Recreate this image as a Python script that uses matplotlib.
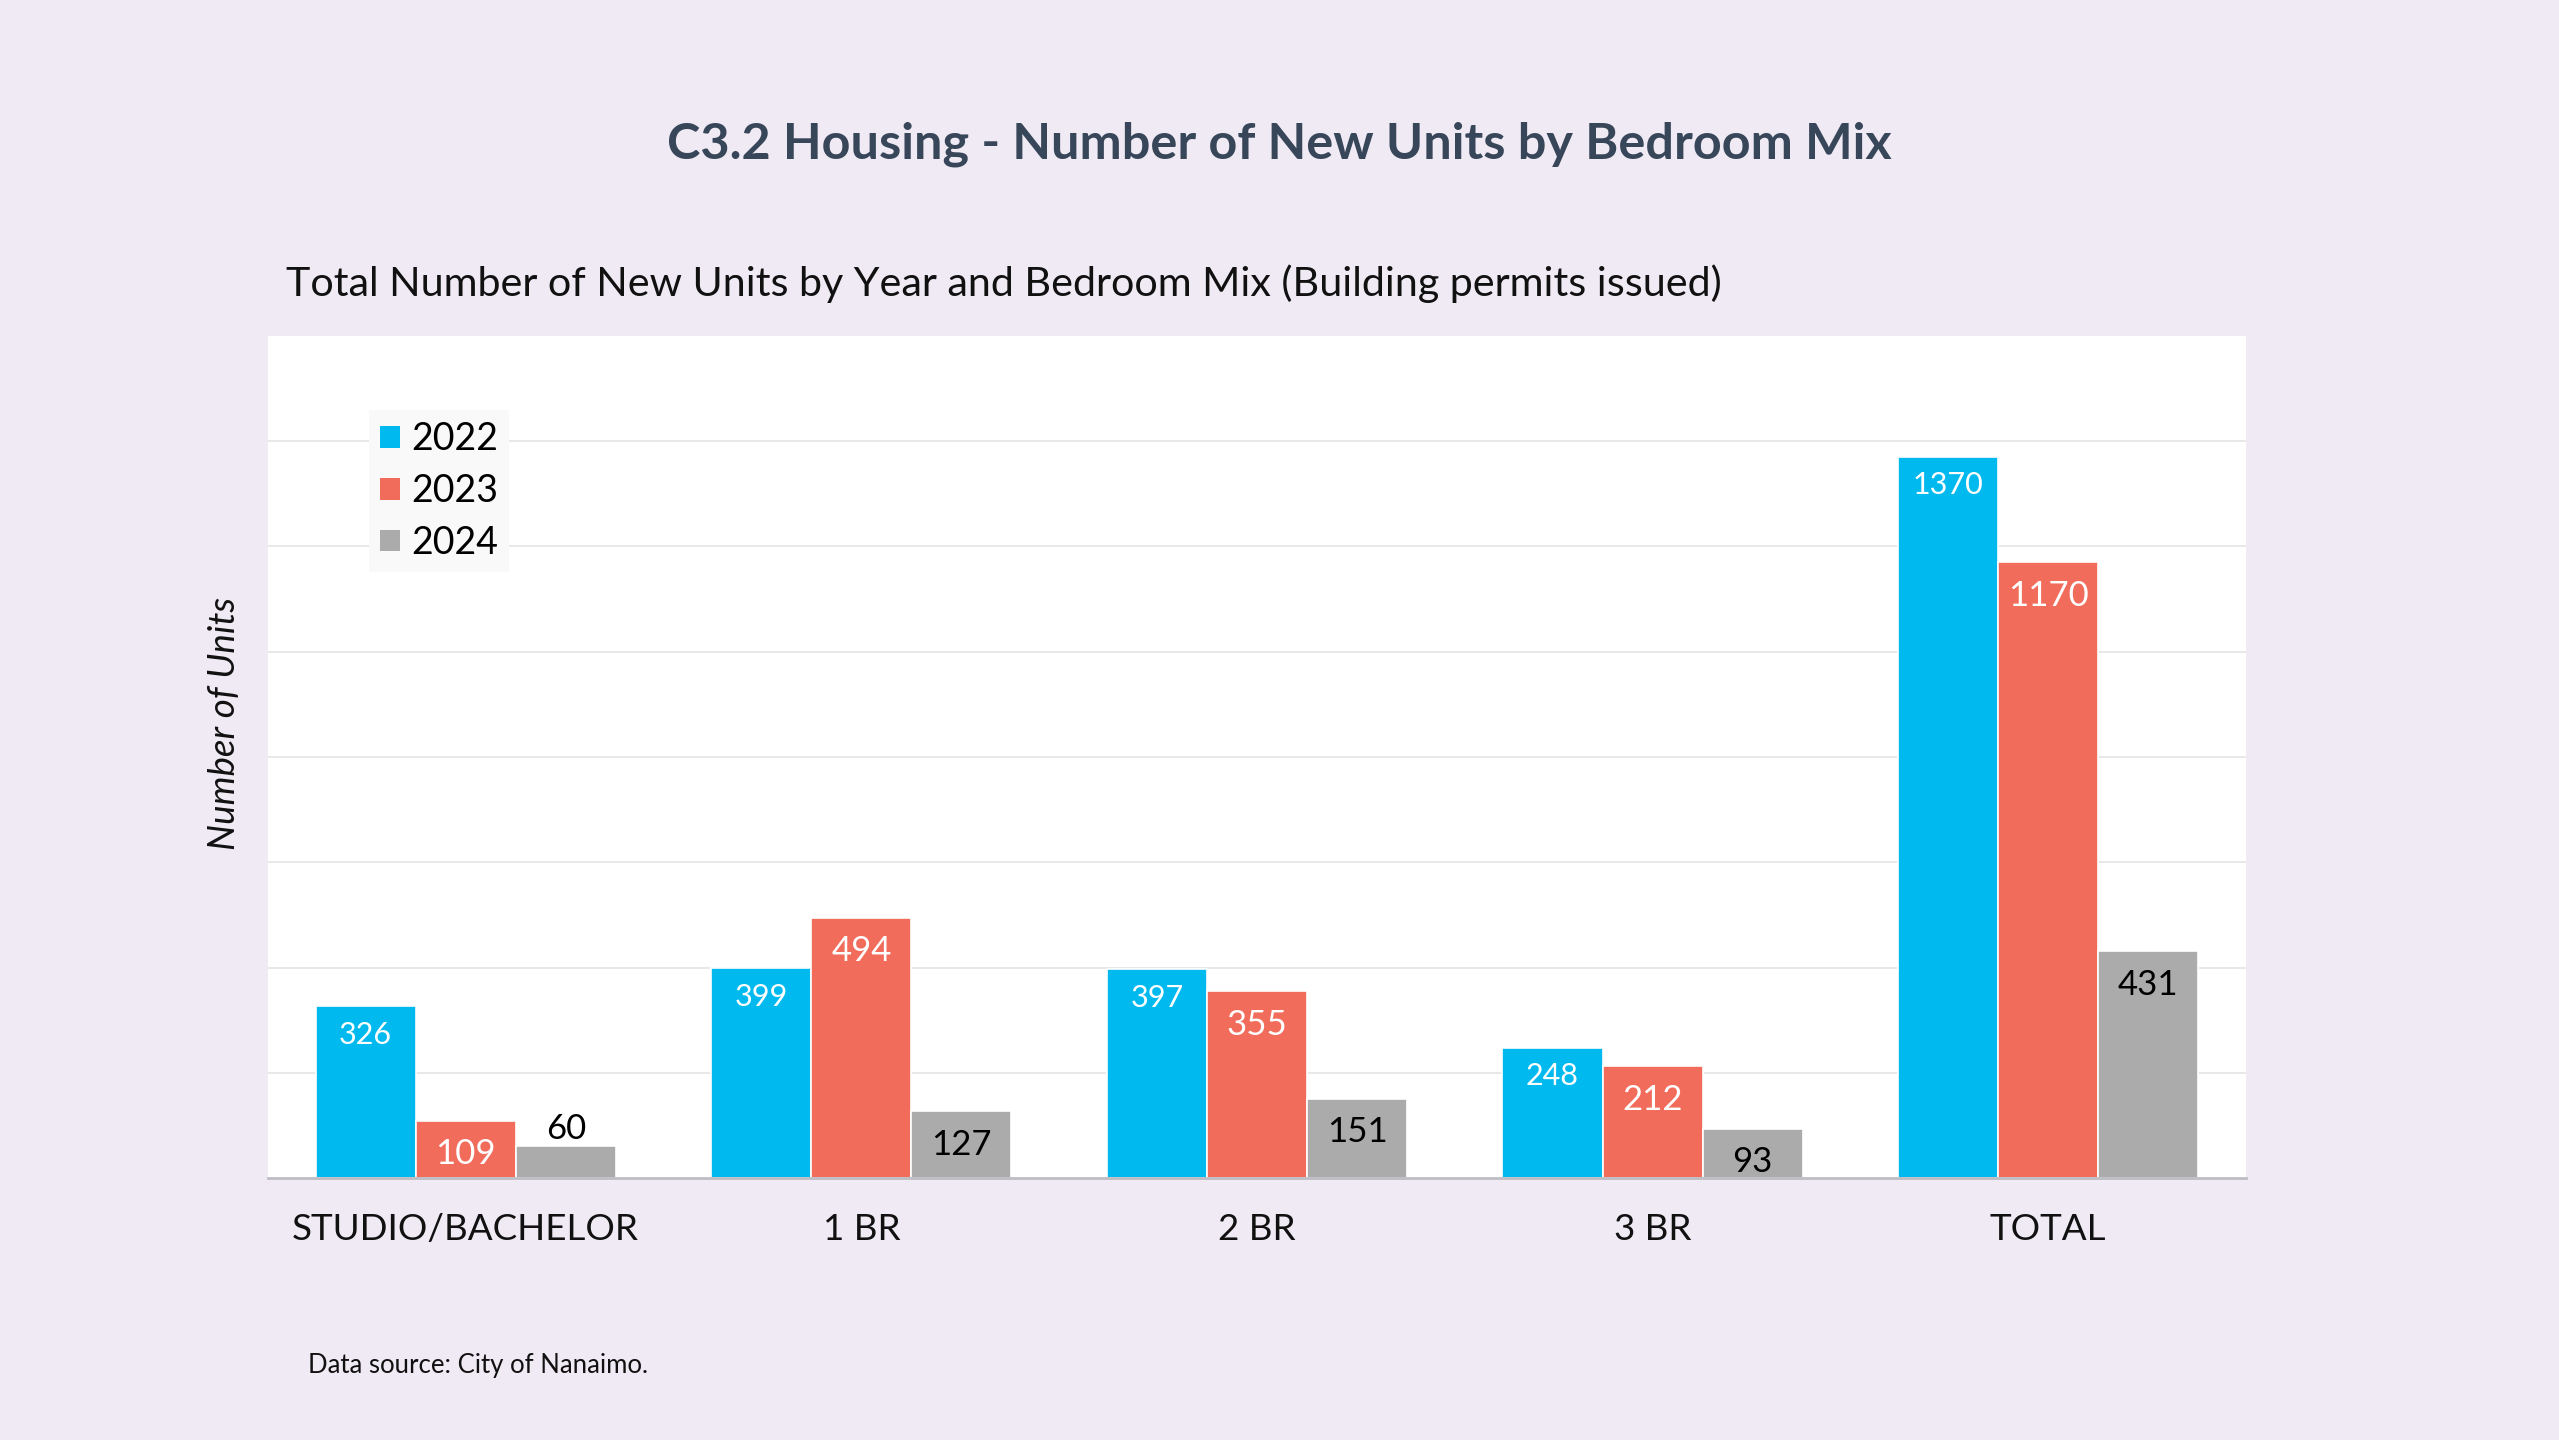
import matplotlib
matplotlib.use("Agg")
import matplotlib.pyplot as plt
import numpy as np
from matplotlib.patches import Patch

categories = ["STUDIO/BACHELOR", "1 BR", "2 BR", "3 BR", "TOTAL"]
years = ["2022", "2023", "2024"]
values_2022 = [326, 399, 397, 248, 1370]
values_2023 = [109, 494, 355, 212, 1170]
values_2024 = [60, 127, 151, 93, 431]

colors = ["#00B9EF", "#F26C5B", "#ABABAB"]
label_colors = ["white", "white", "black"]
BG = "#EFEAF4"

plt.rcParams['font.family'] = ['Lato', 'DejaVu Sans']

fig = plt.figure(figsize=(25.59, 14.40), dpi=100, facecolor=BG)
ax = fig.add_axes([0.1047, 0.1819, 0.7730, 0.5848])
ax.set_facecolor("white")

x = np.arange(len(categories))
width = 0.253
series = [values_2022, values_2023, values_2024]
for i, vals in enumerate(series):
    pos = x + (i - 1) * width
    bars = ax.bar(pos, vals, width, color=colors[i], edgecolor="white",
                  linewidth=1.2, label=years[i], zorder=3)
    for b, v in zip(bars, vals):
        cx = b.get_x() + b.get_width() / 2
        if i == 0:
            fs, off = 22, -20.5
        else:
            fs, off = 25, -24
        col = label_colors[i]
        if i == 2 and v < 80:
            off = 12.5
            col = "black"
        ax.annotate(str(v), (cx, v), xytext=(0, off), textcoords="offset points",
                    ha="center", va="center", fontsize=fs, color=col, zorder=5)

ax.set_xlim(-0.5, len(categories) - 0.5)
ax.set_ylim(0, 1600)
ax.set_yticks(np.arange(200, 1600, 200))
ax.yaxis.grid(True, color="#E6E6E6", linewidth=1.3, zorder=0)
ax.tick_params(axis="y", length=0, labelleft=False)
ax.set_xticks(x)
ax.set_xticklabels(categories, fontsize=26.5, color="#111111")
ax.tick_params(axis="x", length=0, pad=25)
for s in ["top", "right", "left"]:
    ax.spines[s].set_visible(False)
ax.spines["bottom"].set_color("#BDBDC4")
ax.spines["bottom"].set_linewidth(2)
ax.spines["bottom"].set_zorder(4)

ax.set_ylabel("Number of Units", fontsize=26.5, fontstyle='italic', color="#111111")
ax.yaxis.set_label_coords(-0.0135, 0.54)

handles = [Patch(facecolor=c, edgecolor='none') for c in colors]
leg = ax.legend(handles, years, loc="upper left", bbox_to_anchor=(0.051, 0.912),
                fontsize=27, frameon=True, fancybox=False, facecolor="#F9F9F9",
                edgecolor="none", framealpha=1, handlelength=0.52, handleheight=0.52,
                handletextpad=0.3, labelspacing=0.42, borderpad=0.3, borderaxespad=0)

fig.text(0.5, 0.90, "C3.2 Housing - Number of New Units by Bedroom Mix",
         ha="center", va="center", fontsize=36.3, fontweight="bold", color="#38465A")
fig.text(0.1117, 0.803, "Total Number of New Units by Year and Bedroom Mix (Building permits issued)",
         ha="left", va="center", fontsize=29.7, color="#111111")
fig.text(0.1205, 0.052, "Data source: City of Nanaimo.", ha="left", va="center",
         fontsize=18.5, color="#111111")

fig.savefig("out.png", dpi=100, facecolor=BG)
